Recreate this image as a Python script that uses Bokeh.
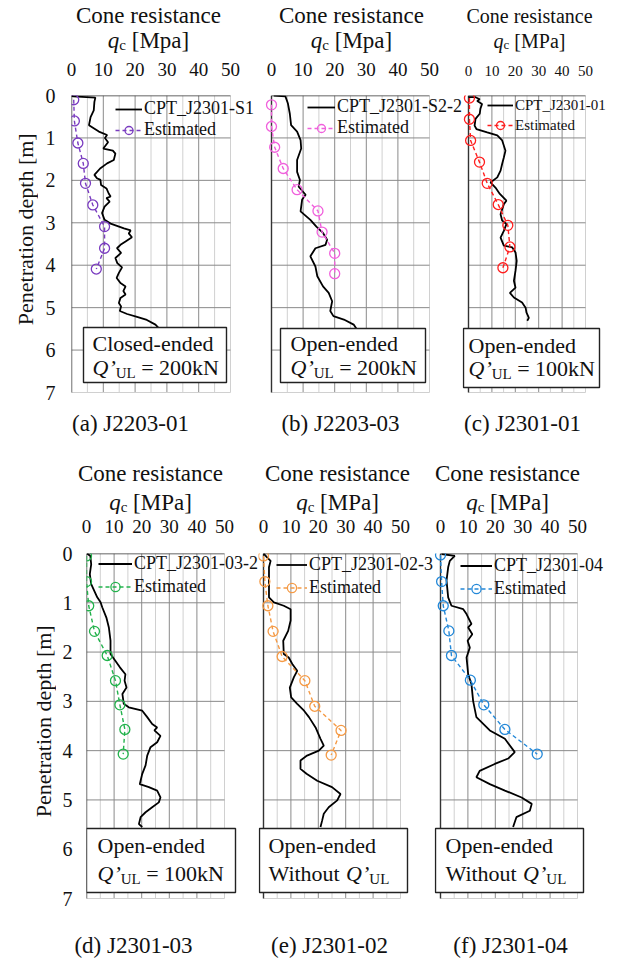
from math import pi
from bokeh.plotting import figure
from bokeh.models import (Range1d, LinearAxis, FixedTicker, Label, Legend, LegendItem,
                          BoxAnnotation)
from bokeh.layouts import row, column
from bokeh.embed import file_html
from bokeh.resources import INLINE

FONT = "Liberation Serif"
INK = "#111111"

# ---------------- data ----------------
q_ticks = [0, 10, 20, 30, 40, 50]
depth_ticks = [0, 1, 2, 3, 4, 5, 6, 7]
q_major_grid = [10, 20, 30, 40]
q_minor_grid = [5, 15, 25, 35, 45, 50]
depth_grid = [1, 2, 3, 4, 5, 6]

# (a) J2203-01
a_cpt_q = [0, 0.5, 7.5, 7.2, 7.0, 6.0, 5.5, 8.6, 11.2, 10.5, 11.5, 10.0, 13.0, 13.8, 13.3,
           11.2, 9.0, 7.2, 8.0, 9.1, 9.3, 11.0, 11.7, 12.3, 11.0, 12.0, 10.4, 9.6, 10.4, 12.3,
           16.5, 18.6, 18.0, 19.0, 17.0, 15.4, 14.3, 15.6, 13.8, 14.4, 15.9, 14.9, 14.2, 15.4,
           17.0, 16.3, 17.0, 15.4, 14.9, 15.6, 15.2, 17.5, 20.6, 23.7, 26.4, 27.8]
a_cpt_d = [0.0, 0.02, 0.05, 0.15, 0.35, 0.51, 0.70, 0.85, 0.93, 1.00, 1.10, 1.25, 1.30, 1.37,
           1.52, 1.60, 1.72, 1.87, 1.95, 1.99, 2.11, 2.19, 2.31, 2.38, 2.42, 2.50, 2.62, 2.77,
           2.93, 3.02, 3.13, 3.18, 3.25, 3.34, 3.44, 3.52, 3.60, 3.71, 3.83, 3.95, 4.05, 4.18,
           4.30, 4.42, 4.50, 4.61, 4.69, 4.77, 4.89, 4.97, 5.08, 5.15, 5.22, 5.29, 5.40, 5.51]
a_est_q = [0.7, 0.9, 2.0, 3.7, 4.4, 6.7, 10.4, 10.4, 7.8]
a_est_d = [0.10, 0.60, 1.12, 1.60, 2.07, 2.58, 3.09, 3.60, 4.09]

# (b) J2203-03
b_cpt_q = [0.7, 4.4, 5.2, 5.8, 6.2, 8.1, 9.2, 9.4, 8.1, 8.1, 9.0, 8.6, 10.8, 9.7, 9.2, 12.3,
           14.2, 16.3, 17.6, 17.1, 13.9, 12.3, 13.9, 14.5, 16.3, 18.1, 19.2, 18.6, 19.6, 22.9,
           26.0, 27.0]
b_cpt_d = [0.0, 0.02, 0.19, 0.43, 0.70, 0.85, 1.05, 1.25, 1.52, 1.80, 1.99, 2.15, 2.34, 2.45,
           2.73, 2.93, 3.09, 3.24, 3.40, 3.52, 3.60, 3.79, 4.03, 4.26, 4.50, 4.65, 4.85, 5.08,
           5.20, 5.28, 5.40, 5.51]
b_est_q = [0, 0, 1.0, 3.7, 8.1, 14.7, 16.0, 20.0, 20.0]
b_est_d = [0.22, 0.73, 1.22, 1.72, 2.22, 2.72, 3.22, 3.72, 4.20]

# (c) J2301-01
c_cpt_q = [0, 3.0, 4.8, 3.7, 5.8, 5.1, 4.8, 3.0, 2.6, 3.4, 8.0, 12.3, 14.4, 15.8, 15.1, 14.4,
           13.7, 12.3, 9.4, 11.5, 13.4, 16.2, 15.1, 13.7, 14.4, 16.2, 15.1, 13.7, 15.1, 18.7,
           20.1, 20.6, 20.1, 19.4, 20.1, 17.7, 19.4, 22.9, 24.4, 24.8, 25.8, 25.1]
c_cpt_d = [0.04, 0.04, 0.09, 0.13, 0.2, 0.31, 0.43, 0.55, 0.71, 0.79, 0.87, 0.94, 1.06, 1.3,
           1.46, 1.61, 1.77, 1.93, 2.05, 2.17, 2.32, 2.48, 2.56, 2.8, 2.95, 3.03, 3.19, 3.35,
           3.54, 3.58, 3.7, 3.9, 4.13, 4.37, 4.53, 4.65, 4.76, 4.88, 5.0, 5.12, 5.24, 5.31]
c_est_q = [0.4, 0.4, 0.9, 4.7, 8.0, 12.7, 16.8, 17.7, 14.7]
c_est_d = [0.06, 0.56, 1.06, 1.57, 2.07, 2.57, 3.06, 3.57, 4.06]

# (d) J2301-03
d_cpt_q = [0.2, 1.4, 1.7, 1.2, 1.7, 3.9, 5.1, 5.7, 7.2, 8.1, 8.7, 8.7, 10.5, 12.1, 14.1, 13.8,
           14.5, 13.0, 13.5, 15.3, 20.2, 22.0, 23.8, 25.6, 24.6, 26.8, 25.6, 23.2, 22.0, 21.4,
           20.2, 19.3, 22.6, 25.6, 26.8, 26.2, 23.8, 21.4, 19.6, 19.0, 20.2]
d_cpt_d = [0.0, 0.05, 0.22, 0.42, 0.62, 0.89, 0.99, 1.09, 1.3, 1.5, 1.77, 2.04, 2.18, 2.31,
           2.45, 2.58, 2.72, 2.85, 3.05, 3.12, 3.19, 3.32, 3.46, 3.53, 3.59, 3.7, 3.83, 3.93,
           4.1, 4.3, 4.47, 4.68, 4.74, 4.81, 4.95, 5.05, 5.15, 5.25, 5.35, 5.49, 5.55]
d_est_q = [0, 0, 0.8, 2.9, 7.5, 10.5, 12.1, 13.9, 13.3]
d_est_d = [0.05, 0.57, 1.06, 1.58, 2.07, 2.58, 3.07, 3.57, 4.07]

# (e) J2301-02
e_cpt_q = [0, 1.3, 2.6, 2.0, 2.0, 2.0, 3.8, 7.4, 9.9, 9.9, 9.0, 7.2, 7.4, 9.2, 10.5, 12.3,
           11.1, 9.6, 10.1, 12.3, 14.8, 16.6, 19.0, 20.8, 22.0, 20.2, 15.9, 13.5, 13.5, 15.7,
           19.6, 25.0, 28.1, 26.9, 23.8, 22.0, 21.4, 20.8]
e_cpt_d = [0, 0.08, 0.15, 0.28, 0.55, 0.89, 0.99, 1.06, 1.13, 1.36, 1.57, 1.77, 2.04, 2.11,
           2.24, 2.38, 2.51, 2.72, 2.92, 3.05, 3.19, 3.32, 3.53, 3.76, 3.9, 4.0, 4.1, 4.2, 4.37,
           4.47, 4.61, 4.74, 4.88, 5.01, 5.15, 5.28, 5.42, 5.55]
e_est_q = [0, 0.5, 1.6, 3.5, 6.8, 15.1, 18.7, 28.3, 24.7]
e_est_d = [0.05, 0.57, 1.06, 1.58, 2.09, 2.58, 3.10, 3.59, 4.09]

# (f) J2301-04
f_cpt_q = [0.4, 5.2, 3.4, 2.8, 2.2, 2.8, 4.0, 8.3, 9.5, 11.3, 10.1, 11.6, 9.9, 10.7, 9.5,
           10.1, 11.3, 11.9, 13.1, 18.0, 23.5, 27.1, 24.7, 19.8, 14.3, 13.1, 18.0, 23.5, 29.6,
           33.3, 32.6, 27.7, 26.5]
f_cpt_d = [0.01, 0.05, 0.15, 0.28, 0.55, 0.89, 1.06, 1.13, 1.23, 1.43, 1.5, 1.64, 1.77, 1.91,
           2.11, 2.45, 2.65, 2.99, 3.32, 3.59, 3.76, 4.03, 4.16, 4.27, 4.41, 4.54, 4.68, 4.81,
           4.95, 5.08, 5.22, 5.35, 5.55]
f_est_q = [0, 0.4, 1.0, 3.05, 4.0, 10.9, 15.8, 23.5, 35.3]
f_est_d = [0.03, 0.57, 1.06, 1.57, 2.07, 2.57, 3.07, 3.57, 4.07]

cpt_names = ["CPT_J2301-S1", "CPT_J2301-S2-2", "CPT_J2301-01",
             "CPT_J2301-03-2", "CPT_J2301-02-3", "CPT_J2301-04"]
captions = ["(a) J2203-01", "(b) J2203-03", "(c) J2301-01",
            "(d) J2301-03", "(e) J2301-02", "(f) J2301-04"]
box_line1 = ["Closed-ended", "Open-ended", "Open-ended", "Open-ended", "Open-ended", "Open-ended"]
box_load = ["200kN", "200kN", "100kN", "100kN", None, None]
units = ["Mpa", "Mpa", "MPa", "MPa", "MPa", "MPa"]
y_title = "Penetration depth [m]"
est_colors = ["#7A3CC0", "#F060DC", "#FF1E1E", "#22B24C", "#F59A45", "#2388D8"]

# ---------------- helpers ----------------
TW = {' ': 250, '\u2019': 333, '=': 564, 'k': 500, 'N': 722, 'Q': 722, 'U': 722, 'L': 611,
      'W': 944, 'i': 278, 't': 278, 'h': 500, 'o': 500, 'u': 500, '[': 333, ']': 333,
      'M': 889, 'p': 500, 'a': 444, 'P': 556, 'q': 500, 'c': 444}


def tw(s, size):
    return sum(TW.get(ch, 500) for ch in s) * size / 1000.0


def rich(p, X, Y, x0, yc, pieces):
    x = x0
    for text, size, style, dy in pieces:
        stripped = text.lstrip(" ")
        x += tw(text[:len(text) - len(stripped)], size)
        p.add_layout(Label(x=X(x), y=Y(yc + dy), text=stripped, text_font=FONT,
                           text_font_size=f"{size}px", text_font_style=style,
                           text_baseline="middle", text_align="left", text_color=INK))
        x += tw(stripped, size)


def width_of(pieces):
    return sum(tw(t, s) for t, s, _, _ in pieces)


def text_fig(fx, fy, W, H):
    p = figure(width=W, height=H, min_border=0, x_range=Range1d(fx, fx + W),
               y_range=Range1d(fy + H, fy), x_axis_location=None, y_axis_location=None,
               output_backend="svg", toolbar_location=None, outline_line_color=None,
               background_fill_color="white", border_fill_color="white")
    p.center = []
    return p


def make_header(i, g):
    p = text_fig(*g["hfig"])
    ident = lambda v: v
    cx, ty1, ty2, tfs, sfs = g["title"]
    p.add_layout(Label(x=cx, y=ty1, text="Cone resistance", text_font=FONT,
                       text_font_size=f"{tfs}px", text_baseline="middle", text_align="center",
                       text_color=INK))
    qp = [("q", tfs, "italic", 0), ("c", sfs, "normal", 4), (" [" + units[i] + "]", tfs, "normal", 0)]
    rich(p, ident, ident, cx - width_of(qp) / 2.0, ty2, qp)
    return p


def make_footer(i, g):
    p = text_fig(*g["ffig"])
    capx, capy = g["cap"]
    p.add_layout(Label(x=capx, y=capy, text=captions[i], text_font=FONT, text_font_size="23px",
                       text_baseline="middle", text_align="center", text_color=INK))
    return p


def make_ylab(box, pos):
    p = text_fig(*box)
    p.add_layout(Label(x=pos[0], y=pos[1], text=y_title, angle=pi / 2, text_font=FONT,
                       text_font_size="22px", text_baseline="middle", text_align="center",
                       text_color=INK))
    return p


def make_panel(i, cq, cd, eq, ed, g):
    fx, fy, W, H = g["fig"]
    q0, q50, d0, d7 = g["scale"]
    fl = q0 if g.get("left") else fx
    ft = d0
    fr = fx + W
    fb = fy + H
    sx = (q50 - q0) / 50.0
    sy = (d7 - d0) / 7.0
    X = lambda px: (px - q0) / sx
    Y = lambda py: (py - d0) / sy
    p = figure(width=W, height=H, min_border_left=fl - fx, min_border_right=0,
               min_border_top=ft - fy, min_border_bottom=0,
               x_range=Range1d(X(fl), X(fr)), y_range=Range1d(Y(fb), 0),
               x_axis_location=None, y_axis_location=None,
               output_backend="svg", toolbar_location=None, outline_line_color=None,
               background_fill_color="white", border_fill_color="white")
    p.center = []

    # grid drawn as segments within the 0-50 x 0-7 window
    p.segment(x0=q_minor_grid, y0=[0] * len(q_minor_grid), x1=q_minor_grid, y1=[7] * len(q_minor_grid),
              line_color="#d0d0d0", line_width=1)
    p.segment(x0=[0] * len(depth_grid), y0=depth_grid, x1=[50] * len(depth_grid), y1=depth_grid,
              line_color="#8a8a8a", line_width=1)
    p.segment(x0=q_major_grid, y0=[0] * len(q_major_grid), x1=q_major_grid, y1=[7] * len(q_major_grid),
              line_color="#8a8a8a", line_width=1)
    p.segment(x0=[0], y0=[7], x1=[50], y1=[7], line_color="#d0d0d0", line_width=1)
    p.segment(x0=[0, 0], y0=[0, 0], x1=[0, 50], y1=[7, 0], line_color="#333333", line_width=1.4)

    ax = LinearAxis(ticker=FixedTicker(ticks=q_ticks), major_label_text_font=FONT,
                    major_label_text_font_size=g["tick_fs"], major_label_standoff=g["tick_sd"],
                    major_tick_line_color=None, minor_tick_line_color=None, axis_line_color=None,
                    major_label_text_color=INK)
    p.add_layout(ax, "above")
    if g.get("left"):
        yax = LinearAxis(ticker=FixedTicker(ticks=depth_ticks),
                         major_label_text_font=FONT, major_label_text_font_size="20px",
                         major_label_text_color=INK, major_label_standoff=g["dep_sd"],
                         major_tick_line_color=None, minor_tick_line_color=None, axis_line_color=None)
        p.add_layout(yax, "left")

    col = est_colors[i]
    cpt = p.line(cq, cd, line_color="black", line_width=1.8)
    el = p.line(eq, ed, line_color=col, line_width=1.4, line_dash="4 3")
    es = p.scatter(eq, ed, marker="circle", size=10, fill_color=None, line_color=col, line_width=1.3)

    # annotation box
    bx0, bx1, by0, by1 = g["box"]
    p.add_layout(BoxAnnotation(left=X(bx0), right=X(bx1), top=Y(by0), bottom=Y(by1),
                               fill_color="white", fill_alpha=1.0, line_color="#222222",
                               line_width=1.4, line_alpha=1.0))
    tx, c1, c2 = g["btext"]
    p.add_layout(Label(x=X(tx), y=Y(c1), text=box_line1[i], text_font=FONT, text_font_size="22px",
                       text_baseline="middle", text_align="left", text_color=INK))
    if box_load[i] is not None:
        pieces = [("Q", 22, "italic", 0), ("\u2019", 22, "italic", 0), ("UL", 15, "normal", 5),
                  (" = " + box_load[i], 22, "normal", 0)]
    else:
        pieces = [("Without ", 22, "normal", 0), ("Q", 22, "italic", 0), ("\u2019", 22, "italic", 0),
                  ("UL", 15, "normal", 5)]
    rich(p, X, Y, tx, c2, pieces)

    # legend
    lx, ltop, rh, lfs, gw = g["legend"]
    leg = Legend(items=[LegendItem(label=cpt_names[i], renderers=[cpt]),
                        LegendItem(label="Estimated", renderers=[el, es])],
                 location=(lx - fl, fb - (ltop + 2 * rh)),
                 label_text_font=FONT, label_text_font_size=f"{lfs}px", label_text_color=INK,
                 label_height=rh, glyph_height=rh, glyph_width=gw, label_standoff=2,
                 spacing=0, padding=0, margin=0, border_line_color=None,
                 background_fill_alpha=0.0)
    p.add_layout(leg)
    return p


# layout geometry (page pixels)
G = [
    dict(hfig=(0, 0, 260, 55), fig=(38, 55, 222, 350), ffig=(0, 405, 260, 35),
         scale=(71, 230, 95, 392), left=True, dep_sd=10, tick_fs="19px", tick_sd=14,
         box=(83, 226, 327, 382), btext=(92, 343, 367), title=(148, 15, 40, 23, 15),
         cap=(130, 423), legend=(115, 100, 20, 18, 27)),
    dict(hfig=(260, 0, 202, 55), fig=(260, 55, 202, 350), ffig=(260, 405, 202, 35),
         scale=(271, 429, 95, 392), tick_fs="19px", tick_sd=14,
         box=(280, 425, 328, 382), btext=(290, 343, 367), title=(351, 15, 40, 23, 15),
         cap=(340, 423), legend=(307, 98, 20, 18, 28)),
    dict(hfig=(462, 0, 156, 55), fig=(462, 55, 156, 350), ffig=(462, 405, 156, 35),
         scale=(468, 585, 95, 392), tick_fs="15px", tick_sd=14,
         box=(463, 599, 328, 387), btext=(468, 345, 368), title=(529, 15, 40, 20, 13),
         cap=(522, 423), legend=(487, 95, 20, 15, 26)),
    dict(hfig=(0, 440, 258, 74), fig=(56, 514, 202, 398), ffig=(0, 912, 258, 55),
         scale=(86, 224, 553, 898), left=True, dep_sd=8, tick_fs="19px", tick_sd=15,
         box=(86, 235, 828, 892), btext=(97, 845, 873), title=(150, 473, 502, 23, 15),
         cap=(133, 945), legend=(98, 552, 23, 18, 34)),
    dict(hfig=(258, 440, 176, 74), fig=(258, 514, 176, 398), ffig=(258, 912, 176, 55),
         scale=(263, 400, 553, 898), tick_fs="19px", tick_sd=15,
         box=(259, 407, 828, 892), btext=(268, 845, 873), title=(337, 473, 502, 23, 15),
         cap=(329, 945), legend=(276, 553, 23, 18, 31)),
    dict(hfig=(434, 440, 184, 74), fig=(434, 514, 184, 398), ffig=(434, 912, 184, 55),
         scale=(440, 577, 553, 898), tick_fs="19px", tick_sd=15,
         box=(435, 583, 828, 892), btext=(445, 845, 873), title=(507, 473, 502, 23, 15),
         cap=(510, 945), legend=(460, 554, 23, 18, 32)),
]

series = [(a_cpt_q, a_cpt_d, a_est_q, a_est_d), (b_cpt_q, b_cpt_d, b_est_q, b_est_d),
          (c_cpt_q, c_cpt_d, c_est_q, c_est_d), (d_cpt_q, d_cpt_d, d_est_q, d_est_d),
          (e_cpt_q, e_cpt_d, e_est_q, e_est_d), (f_cpt_q, f_cpt_d, f_est_q, f_est_d)]

headers = [make_header(i, G[i]) for i in range(6)]
panels = [make_panel(i, *series[i], G[i]) for i in range(6)]
footers = [make_footer(i, G[i]) for i in range(6)]
ylab_top = make_ylab((0, 55, 38, 350), (25, 206))
ylab_bot = make_ylab((0, 514, 56, 398), (43, 700))

layout = column(row(*headers[:3], spacing=0), row(ylab_top, *panels[:3], spacing=0),
                row(*footers[:3], spacing=0),
                row(*headers[3:], spacing=0), row(ylab_bot, *panels[3:], spacing=0),
                row(*footers[3:], spacing=0), spacing=0)

open("out.html", "w").write(file_html(layout, INLINE))
